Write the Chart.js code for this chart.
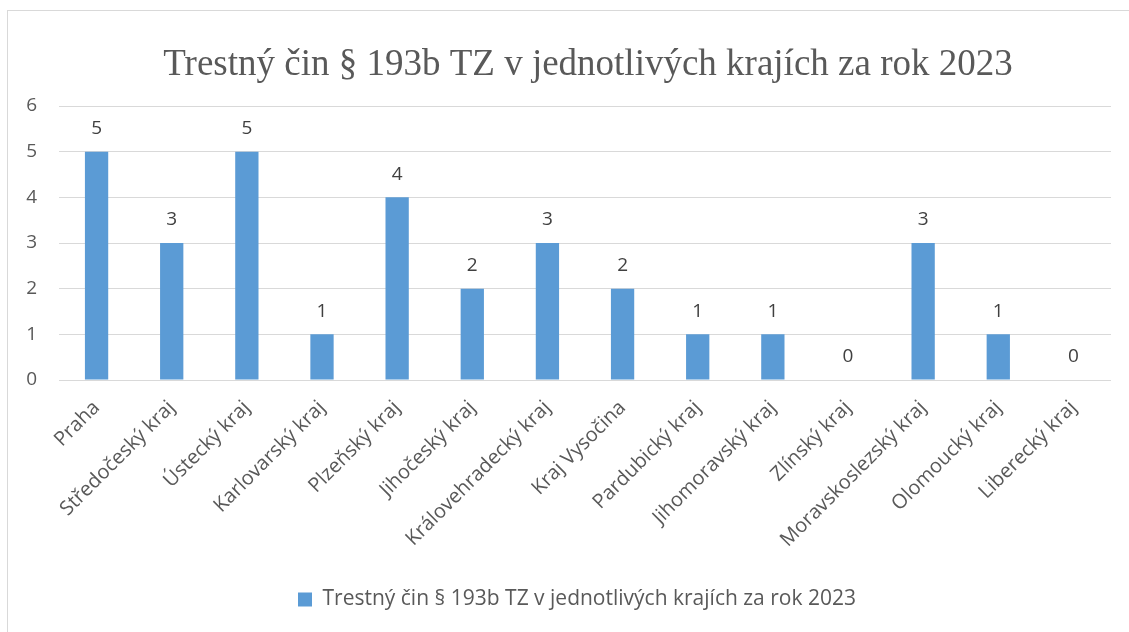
<!DOCTYPE html>
<html lang="cs">
<head>
<meta charset="utf-8">
<script src="https://cdn.jsdelivr.net/npm/chart.js@4"></script>
<style>
  html, body { margin: 0; padding: 0; background: #fff; overflow: hidden; }
  #ramecek { position: absolute; left: 7px; top: 10px; width: 1140px; height: 640px; border: 1px solid #d9d9d9; }
  #graf-wrapper { position: absolute; left: 0; top: 0; width: 1172px; height: 632px; }
</style>
</head>
<body>
<div id="ramecek"></div>
<div id="graf-wrapper"><canvas id="graf"></canvas></div>
<script>
// ─── Data ─────────────────────────────────────────────────────────────────────
const KRAJE = [
  'Praha', 'Středočeský kraj', 'Ústecký kraj', 'Karlovarský kraj', 'Plzeňský kraj',
  'Jihočeský kraj', 'Královehradecký kraj', 'Kraj Vysočina', 'Pardubický kraj',
  'Jihomoravský kraj', 'Zlínský kraj', 'Moravskoslezský kraj', 'Olomoucký kraj', 'Liberecký kraj',
];
const POCTY = [5, 3, 5, 1, 4, 2, 3, 2, 1, 1, 0, 3, 1, 0];
const NAZEV = 'Trestný čin § 193b TZ v jednotlivých krajích za rok 2023';

const SEDA = '#595959';
const PISMO = "'Open Sans', 'Liberation Sans', sans-serif";

// ─── Popisky hodnot nad sloupci ───────────────────────────────────────────────
const popiskyHodnot = {
  id: 'popiskyHodnot',
  afterDatasetsDraw(chart) {
    const ctx = chart.ctx;
    const meta = chart.getDatasetMeta(0);
    ctx.save();
    ctx.font = `19px ${PISMO}`;
    ctx.fillStyle = '#404040';
    ctx.textAlign = 'center';
    ctx.textBaseline = 'middle';
    meta.data.forEach((el, i) => {
      ctx.fillText(String(POCTY[i]), el.x, el.y - 23);
    });
    ctx.restore();
  },
};

// ─── Titulek (v originále je vycentrovaný na širší rámeček než plocha grafu) ──
const titulek = {
  id: 'titulek',
  afterDraw(chart) {
    const ctx = chart.ctx;
    ctx.save();
    ctx.font = "37px 'Liberation Serif', 'Times New Roman', serif";
    ctx.fillStyle = SEDA;
    ctx.textAlign = 'center';
    ctx.textBaseline = 'alphabetic';
    ctx.fillText(NAZEV, 588, 75);
    ctx.restore();
  },
};

// canvas je širší než okno; prázdná pravá osa "odsadi" plochu grafu zpět na 1111 px,
// legenda se tím vycentruje stejně jako v originále
new Chart(document.getElementById('graf'), {
  type: 'bar',
  data: {
    labels: KRAJE,
    datasets: [{
      label: NAZEV,
      data: POCTY,
      backgroundColor: '#5b9bd5',
      barPercentage: 0.31,
      categoryPercentage: 1,
    }],
  },
  plugins: [popiskyHodnot, titulek],
  options: {
    responsive: true,
    maintainAspectRatio: false,
    animation: false,
    layout: { padding: { left: 0, right: 18, top: 106, bottom: 12 } },
    plugins: {
      tooltip: { enabled: false },
      title: { display: false },
      legend: {
        position: 'bottom',
        labels: {
          color: SEDA,
          font: { family: PISMO, size: 21 },
          boxWidth: 14,
          boxHeight: 14,
          padding: 10,
        },
      },
    },
    scales: {
      x: {
        grid: { display: false },
        border: { display: false },
        afterFit: scale => { scale.height = 199; },
        ticks: {
          color: SEDA,
          font: { family: PISMO, size: 20 },
          minRotation: 45,
          maxRotation: 45,
          autoSkip: false,
          padding: 8,
        },
      },
      y: {
        min: 0,
        max: 6,
        grid: { color: '#d9d9d9', lineWidth: 1, drawTicks: false },
        border: { display: false },
        afterFit: scale => { scale.width = 59; },
        ticks: {
          stepSize: 1,
          color: SEDA,
          font: { family: PISMO, size: 19 },
          padding: 22,
        },
      },
      odsazeni: {
        type: 'linear',
        position: 'right',
        grid: { display: false },
        border: { display: false },
        ticks: { display: false },
        afterFit: scale => { scale.width = 43; },
      },
    },
  },
});
</script>
</body>
</html>
